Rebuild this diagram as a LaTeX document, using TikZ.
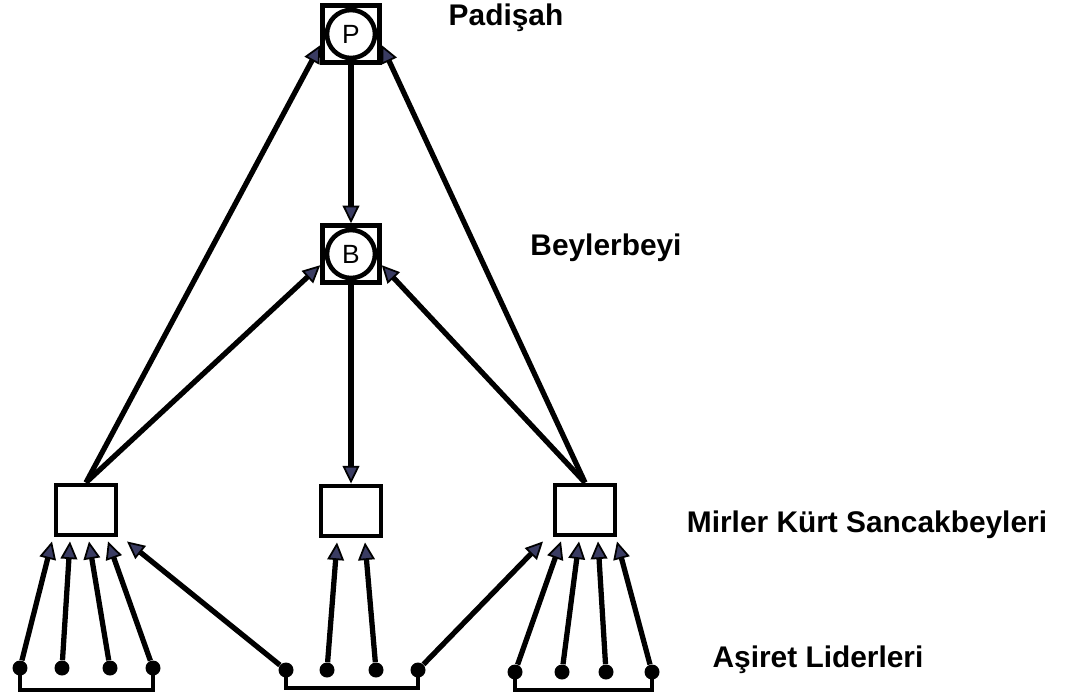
\documentclass[tikz,border=0pt]{standalone}
\usepackage{fontspec}
\setmainfont{Liberation Sans}
\usetikzlibrary{positioning,calc,arrows.meta}
\definecolor{tipblue}{RGB}{58,60,98}

\begin{document}
\begin{tikzpicture}[x=0.02cm,y=-0.02cm,
		sq/.style={draw,line width=2.6pt,minimum size=1.14cm,inner sep=0pt},
		rnd/.style={draw,circle,line width=2.6pt,fill=white,minimum size=0.96cm,inner sep=0pt,font=\fontsize{15}{15}\selectfont},
		bx/.style={draw,line width=2.8pt,fill=white,minimum width=1.2cm,minimum height=1cm,inner sep=0pt},
		tribe/.style={circle,fill=black,minimum size=0.3cm,inner sep=0pt},
		lbl/.style={font=\bfseries\fontsize{17}{20}\selectfont},
		arr/.style={line width=3pt,-{Triangle[length=10pt,width=9.5pt,fill=tipblue,line width=1pt]}}]
				\useasboundingbox (0,0) rectangle (1068,697);
				% padisah and beylerbeyi
				\node[sq] (Pq) at (351,34) {};
				\node[rnd] (P) at (351,34) {P};
				\node[sq] (Bq) at (351,254) {};
				\node[rnd] (B) at (351,254) {B};
				% sancak boxes
				\node[bx] (L) at (86,510) {};
				\node[bx] (M) at (351,511) {};
				\node[bx] (R) at (585,510) {};
				% tribe leaders
				\node[tribe] (a1) at (20,668) {};
				\node[tribe] (a2) at (62,668) {};
				\node[tribe] (a3) at (110,668) {};
				\node[tribe] (a4) at (153,668) {};
				\node[tribe] (m1) at (286,670) {};
				\node[tribe] (m2) at (327,670) {};
				\node[tribe] (m3) at (376,670) {};
				\node[tribe] (m4) at (418,670) {};
				\node[tribe] (r1) at (515,672) {};
				\node[tribe] (r2) at (562,672) {};
				\node[tribe] (r3) at (606,672) {};
				\node[tribe] (r4) at (652,672) {};
				% labels
				\node[lbl] (tP) at (506,18) {Padişah};
				\node[lbl] (tB) at (606,248) {Beylerbeyi};
				\node[lbl] (tM) at (867,525) {Mirler Kürt Sancakbeyleri};
				\node[lbl] (tA) at (818,660) {Aşiret Liderleri};
				% top links
				\draw[arr] (Pq.south) -- (Bq.north);
				\draw[arr] (Bq.south) -- (M.north);
				\draw[arr] (L.north) -- (Pq.200);
				\draw[arr] (L.north) -- (Bq.200);
				\draw[arr] (R.north) -- (Pq.340);
				\draw[arr] (R.north) -- (Bq.340);
				% bottom links
				\draw[arr] (a1) -- ($(L.south)+(-34,4)$);
				\draw[arr] (a2) -- ($(L.south)+(-16,4)$);
				\draw[arr] (a3) -- ($(L.south)+(3,4)$);
				\draw[arr] (a4) -- ($(L.south)+(22,4)$);
				\draw[arr] (m1) -- ($(L.south)+(41,4)$);
				\draw[arr] (m2) -- ($(M.south)+(-14,4)$);
				\draw[arr] (m3) -- ($(M.south)+(14,4)$);
				\draw[arr] (m4) -- ($(R.south)+(-42,4)$);
				\draw[arr] (r1) -- ($(R.south)+(-24,4)$);
				\draw[arr] (r2) -- ($(R.south)+(-6,4)$);
				\draw[arr] (r3) -- ($(R.south)+(13,4)$);
				\draw[arr] (r4) -- ($(R.south)+(32,4)$);
				% brackets
				\draw[line width=2.8pt] (a1.center) -- ++(0,22) -| (a4.center);
				\draw[line width=2.8pt] (m1.center) -- ++(0,18) -| (m4.center);
				\draw[line width=2.8pt] (r1.center) -- ++(0,18) -| (r4.center);
				\end{tikzpicture}
\end{document}
